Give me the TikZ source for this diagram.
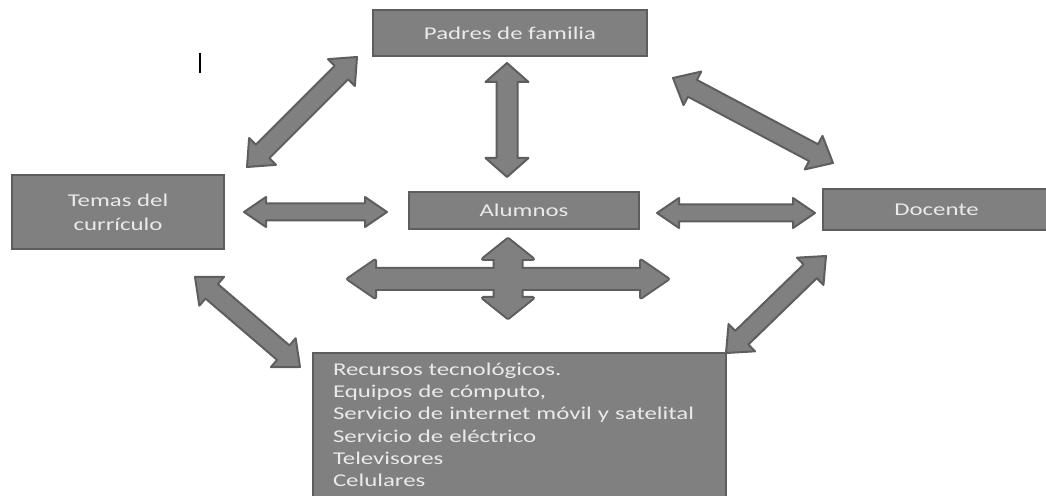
\documentclass[tikz,border=0pt]{standalone}
\usepackage{fontspec}
\setmainfont{Carlito}[FakeStretch=1.38]
\usetikzlibrary{calc}

\definecolor{boxgray}{HTML}{808080}
\definecolor{edgegray}{HTML}{5E5E5E}
\definecolor{textgray}{HTML}{EAEAEA}

\tikzset{
  box/.style={draw=edgegray, line width=1pt, fill=boxgray, text=textgray, inner sep=0pt},
  blockarrow/.style={draw=edgegray, line width=1pt, fill=boxgray, line join=round},
  crossedge/.style={draw=edgegray, line width=2pt, fill=boxgray, line join=round},
  crossfill/.style={fill=boxgray},
}

% block double arrow: [style]{from}{to}{shaft half width}{head half width}{head length}
\newcommand{\dblarrow}[6][blockarrow]{%
  \path[#1] (#2)
    -- ($(#2)!#6!(#3)!#5!90:(#3)$) -- ($(#2)!#6!(#3)!#4!90:(#3)$)
    -- ($(#3)!#6!(#2)!#4!-90:(#2)$) -- ($(#3)!#6!(#2)!#5!-90:(#2)$)
    -- (#3)
    -- ($(#3)!#6!(#2)!#5!90:(#2)$) -- ($(#3)!#6!(#2)!#4!90:(#2)$)
    -- ($(#2)!#6!(#3)!#4!-90:(#3)$) -- ($(#2)!#6!(#3)!#5!-90:(#3)$)
    -- cycle;}

\begin{document}
\begin{tikzpicture}[x=0.5pt, y=-0.5pt, font=\fontsize{9}{11.1}\selectfont]
  \useasboundingbox (0,0) rectangle (1046,496);
  \clip (0,0) rectangle (1046,496);

  % boxes
  \node[box, minimum width=137pt, minimum height=23pt] (padres) at (510,33) {Padres de familia};
  \node[box, minimum width=106pt, minimum height=37pt, align=center,
        font=\fontsize{9}{12}\selectfont] (temas) at (118,212) {Temas del\\currículo};
  \node[box, minimum width=115pt, minimum height=18.5pt] (alumnos) at (524,210.5) {Alumnos};
  \node[box, minimum width=114pt, minimum height=20.5pt] (docente) at (936.5,209.5) {Docente};
  \node[box, anchor=north west, text width=186.5pt, align=left, inner xsep=10pt, inner ysep=5pt]
      (recursos) at (312,352) {Recursos tecnológicos.\\Equipos de cómputo,\\Servicio de internet móvil y satelital\\Servicio de eléctrico\\Televisores\\Celulares};

  % arrow ends
  \coordinate (pt-a) at (357,57);  \coordinate (pt-b) at (247,167);
  \coordinate (pa-a) at (507,63);  \coordinate (pa-b) at (507,177);
  \coordinate (pd-a) at (673,78);  \coordinate (pd-b) at (833,163);
  \coordinate (ta-a) at (244,212); \coordinate (ta-b) at (387,212);
  \coordinate (ad-a) at (657,213); \coordinate (ad-b) at (815,213);
  \coordinate (tr-a) at (195,277); \coordinate (tr-b) at (300,367);
  \coordinate (dr-a) at (826,256); \coordinate (dr-b) at (726,353);
  \coordinate (cross-w) at (348,279); \coordinate (cross-e) at (668,279);
  \coordinate (cross-n) at (508,239); \coordinate (cross-s) at (508,318);

  % connectors
  \dblarrow{pt-a}{pt-b}{4.75pt}{9.5pt}{11pt}
  \dblarrow{pa-a}{pa-b}{5.25pt}{10.75pt}{9.5pt}
  \dblarrow{pd-a}{pd-b}{4.75pt}{9.5pt}{11pt}
  \dblarrow{ta-a}{ta-b}{4.25pt}{7.5pt}{11pt}
  \dblarrow{ad-a}{ad-b}{4.25pt}{7.5pt}{11pt}
  \dblarrow{tr-a}{tr-b}{4.75pt}{9.5pt}{11pt}
  \dblarrow{dr-a}{dr-b}{4.75pt}{9.5pt}{11pt}

  % four-way arrow below Alumnos
  \dblarrow[crossedge]{cross-w}{cross-e}{5pt}{9.25pt}{13.5pt}
  \dblarrow[crossedge]{cross-n}{cross-s}{6.75pt}{12.5pt}{10pt}
  \dblarrow[crossfill]{cross-w}{cross-e}{5pt}{9.25pt}{13.5pt}
  \dblarrow[crossfill]{cross-n}{cross-s}{6.75pt}{12.5pt}{10pt}

  % stray mark
  \coordinate (mark-top) at (200,53); \coordinate (mark-bot) at (200,73);
  \draw[line width=1pt] (mark-top) -- (mark-bot);
\end{tikzpicture}
\end{document}
